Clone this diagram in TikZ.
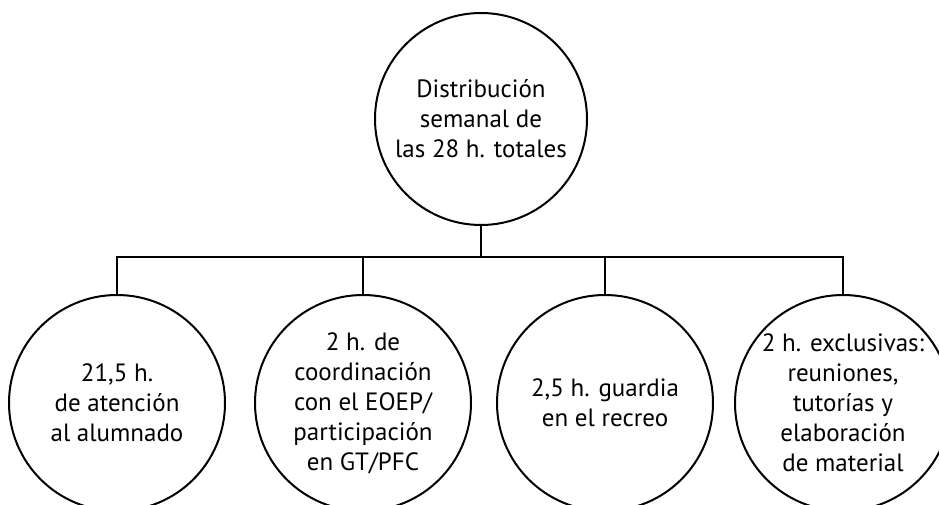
\documentclass[tikz,border=0pt]{standalone}
\usepackage{fontspec}
\setsansfont{PT Sans}
\begin{document}
\begin{tikzpicture}[x=1pt,y=1pt]
        \tikzstyle{topic}=[circle,line width=2pt,draw=black,minimum size=212pt,inner sep=0pt,align=center,font=\sffamily\fontsize{25}{30}\selectfont]
        \tikzstyle{part}=[topic,minimum size=216pt]
        \tikzstyle{edge}=[draw,line width=2pt]
        \useasboundingbox (0,0) rectangle (939,504);
        \node [topic] (total) at (481,385) {Distribución\\semanal de\\las 28 h. totales};
        \node [part] (s1) at (117,101) {21,5 h.\\de atención\\al alumnado};
        \node [part] (s2) at (363,101) {2 h. de\\coordinación\\con el EOEP/\\participación\\en GT/PFC};
        \node [part] (s3) at (605,101) {2,5 h. guardia\\en el recreo};
        \node [part] (s4) at (843,101) {2 h. exclusivas:\\reuniones,\\tutorías y\\elaboración\\de material};
        \coordinate (bar) at (481,247);
        \path[edge] (total.south) -- (bar);
        \path[edge] (bar) -| (s1.north);
        \path[edge] (bar) -| (s2.north);
        \path[edge] (bar) -| (s3.north);
        \path[edge] (bar) -| (s4.north);
\end{tikzpicture}
\end{document}
